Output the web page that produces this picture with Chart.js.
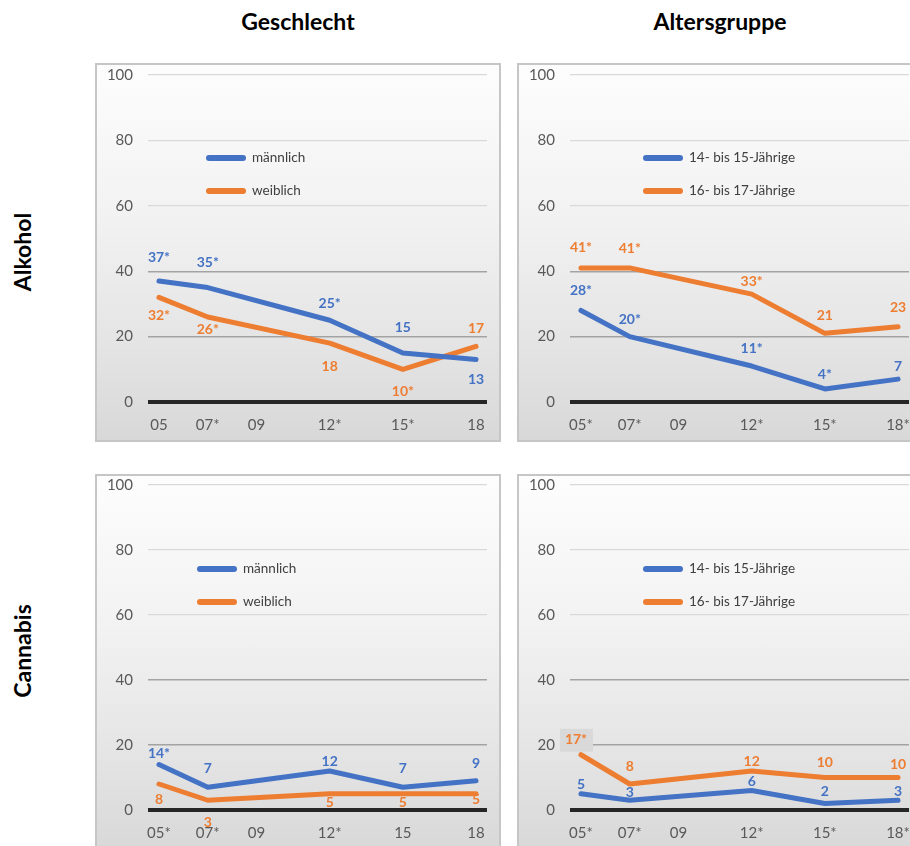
<!DOCTYPE html>
<html lang="de">
<head>
<meta charset="utf-8">
<title>Alkohol und Cannabis nach Geschlecht und Altersgruppe</title>
<script src="https://cdn.jsdelivr.net/npm/chart.js@4.4.1/dist/chart.umd.min.js"></script>
<style>
  html, body { margin: 0; padding: 0; background: #fff; }
  body { width: 910px; height: 846px; position: relative; overflow: hidden; font-family: Lato, "Open Sans", sans-serif; }
  .head { position: absolute; top: 7px; width: 406px; text-align: center; font-weight: bold; font-size: 23px; color: #000; }
  .row { position: absolute; left: 22px; font-weight: bold; font-size: 23px; color: #000;
         transform: translate(-50%, -50%) rotate(-90deg); white-space: nowrap; }
  .panel { position: absolute; width: 406px; height: 379px; box-sizing: border-box;
           border: 2px solid #c6c6c6;
           background: linear-gradient(180deg, #fdfdfd 0%, #f2f2f2 40%, #e4e4e4 75%, #d8d8d8 100%); }
  .panel canvas { display: block; }
</style>
</head>
<body>
<div class="head" style="left:95px">Geschlecht</div>
<div class="head" style="left:517px">Altersgruppe</div>
<div class="row" style="top:252px">Alkohol</div>
<div class="row" style="top:651px">Cannabis</div>

<div class="panel" style="left:95px;top:63px"><canvas id="alkGeschlecht" width="402" height="375"></canvas></div>
<div class="panel" style="left:517px;top:63px"><canvas id="alkAlter" width="402" height="375"></canvas></div>
<div class="panel" style="left:95px;top:474px"><canvas id="canGeschlecht" width="402" height="375"></canvas></div>
<div class="panel" style="left:517px;top:474px"><canvas id="canAlter" width="402" height="375"></canvas></div>

<script>
// Erhebungsjahre (20xx) und Achsenbeschriftungen
const tickYears = [5, 7, 9, 12, 15, 18];
const surveyYears = [5, 7, 12, 15, 18];
const ticksAlkGeschlecht = ['05', '07*', '09', '12*', '15*', '18'];
const ticksAlkAlter = ['05*', '07*', '09', '12*', '15*', '18*'];
const ticksCanGeschlecht = ['05*', '07*', '09', '12*', '15', '18'];
const ticksCanAlter = ['05*', '07*', '09', '12*', '15*', '18*'];

// Alkohol, Werte in %
const alkMaennlich = [37, 35, 25, 15, 13];
const alkMaennlichText = ['37*', '35*', '25*', '15', '13'];
const alkWeiblich = [32, 26, 18, 10, 17];
const alkWeiblichText = ['32*', '26*', '18', '10*', '17'];
const alkJung = [28, 20, 11, 4, 7];
const alkJungText = ['28*', '20*', '11*', '4*', '7'];
const alkAlt = [41, 41, 33, 21, 23];
const alkAltText = ['41*', '41*', '33*', '21', '23'];

// Cannabis, Werte in %
const canMaennlich = [14, 7, 12, 7, 9];
const canMaennlichText = ['14*', '7', '12', '7', '9'];
const canWeiblich = [8, 3, 5, 5, 5];
const canWeiblichText = ['8', '3', '5', '5', '5'];
const canJung = [5, 3, 6, 2, 3];
const canJungText = ['5', '3', '6', '2', '3'];
const canAlt = [17, 8, 12, 10, 10];
const canAltText = ['17*', '8', '12', '10', '10'];

const BLUE = '#4472C4';
const ORANGE = '#ED7D31';
const FONT = 'Lato';

// Legende innerhalb der Zeichenfläche
const insideLegend = {
  id: 'insideLegend',
  afterDatasetsDraw(chart, args, opts) {
    const { ctx, chartArea } = chart;
    chart.data.datasets.forEach((ds, i) => {
      const x = chartArea.left + opts.x;
      const y = chartArea.top + opts.y + i * 33;
      ctx.save();
      ctx.strokeStyle = ds.borderColor;
      ctx.lineWidth = 6;
      ctx.lineCap = 'round';
      ctx.beginPath();
      ctx.moveTo(x + 3, y);
      ctx.lineTo(x + 37, y);
      ctx.stroke();
      ctx.fillStyle = '#404040';
      ctx.font = '13.5px ' + FONT;
      ctx.textBaseline = 'middle';
      ctx.fillText(ds.label, x + 46, y);
      ctx.restore();
    });
  }
};

// Werte an den Punkten
const pointLabels = {
  id: 'pointLabels',
  afterDatasetsDraw(chart) {
    const ctx = chart.ctx;
    chart.data.datasets.forEach((ds, i) => {
      const meta = chart.getDatasetMeta(i);
      meta.data.forEach((pt, j) => {
        const x = pt.x + (ds.labelDx ? ds.labelDx[j] : 0);
        const y = pt.y + ds.labelDy[j];
        ctx.save();
        ctx.font = 'bold 14px ' + FONT;
        ctx.textAlign = 'center';
        ctx.textBaseline = 'middle';
        if (ds.labelBg && ds.labelBg[j]) {
          ctx.fillStyle = ds.labelBg[j];
          ctx.fillRect(x - 16, y - 11, 33, 23);
        }
        ctx.fillStyle = ds.borderColor;
        ctx.fillText(ds.pointText[j], x, y);
        ctx.restore();
      });
    });
  }
};

function series(values) {
  return surveyYears.map((x, i) => ({ x: x, y: values[i] }));
}

function line(label, color, values, texts, dy, extra) {
  return Object.assign({
    label: label,
    data: series(values),
    pointText: texts,
    labelDy: dy,
    borderColor: color,
    backgroundColor: color,
    borderWidth: 5,
    borderCapStyle: 'round',
    borderJoinStyle: 'round',
    pointRadius: 0,
    tension: 0,
    clip: false
  }, extra || {});
}

function makeChart(id, tickText, datasets, p) {
  new Chart(document.getElementById(id), {
    type: 'line',
    data: { datasets: datasets },
    options: {
      responsive: false,
      animation: false,
      events: [],
      layout: { padding: { top: p.top, right: 12, left: 0, bottom: 0 } },
      plugins: {
        legend: { display: false },
        tooltip: { enabled: false },
        insideLegend: { x: p.legX, y: p.legY }
      },
      scales: {
        x: {
          type: 'linear',
          min: 4.55,
          max: 18.45,
          afterBuildTicks: (scale) => { scale.ticks = tickYears.map(v => ({ value: v })); },
          afterFit: (scale) => { scale.height = p.xh; },
          grid: { display: false, drawTicks: true, tickLength: 14 },
          border: { display: false },
          ticks: {
            autoSkip: false,
            maxRotation: 0,
            padding: 0,
            color: '#595959',
            font: { family: FONT, size: 15 },
            callback: (value, index) => tickText[index]
          }
        },
        y: {
          min: 0,
          max: 100,
          afterFit: (scale) => { scale.width = 51; },
          border: { display: false },
          grid: {
            drawTicks: true,
            tickLength: 15,
            tickColor: 'rgba(0,0,0,0)',
            color: (c) => c.tick.value === 0 ? '#262626' : (c.tick.value <= 40 ? '#a3a3a3' : '#d9d9d9'),
            lineWidth: (c) => c.tick.value === 0 ? 4 : (c.tick.value <= 40 ? 1.4 : 1.2)
          },
          ticks: {
            stepSize: 20,
            padding: 0,
            color: '#595959',
            font: { family: FONT, size: 15 }
          }
        }
      }
    },
    plugins: [insideLegend, pointLabels]
  });
}

function drawAll() {
  makeChart('alkGeschlecht', ticksAlkGeschlecht, [
    line('männlich', BLUE, alkMaennlich, alkMaennlichText, [-24, -25, -17, -25, 20]),
    line('weiblich', ORANGE, alkWeiblich, alkWeiblichText, [18, 13, 23, 22, -18])
  ], { top: 10, xh: 38, legX: 58, legY: 83 });

  makeChart('alkAlter', ticksAlkAlter, [
    line('14- bis 15-Jährige', BLUE, alkJung, alkJungText, [-20, -17, -18, -14, -13]),
    line('16- bis 17-Jährige', ORANGE, alkAlt, alkAltText, [-20, -19, -13, -18, -19])
  ], { top: 10, xh: 38, legX: 73, legY: 83 });

  makeChart('canGeschlecht', ticksCanGeschlecht, [
    line('männlich', BLUE, canMaennlich, canMaennlichText, [-11, -19, -10, -19, -17]),
    line('weiblich', ORANGE, canWeiblich, canWeiblichText, [15, 22, 9, 9, 6])
  ], { top: 8, xh: 41, legX: 49, legY: 84 });

  makeChart('canAlter', ticksCanAlter, [
    line('14- bis 15-Jährige', BLUE, canJung, canJungText, [-9, -8, -9, -12, -9]),
    line('16- bis 17-Jährige', ORANGE, canAlt, canAltText, [-15, -18, -10, -15, -13],
         { labelDx: [-5, 0, 0, 0, 0], labelBg: ['#d9d9d9', null, null, null, null] })
  ], { top: 8, xh: 41, legX: 73, legY: 84 });
}

Promise.all([
  document.fonts.load('15px Lato'),
  document.fonts.load('bold 15px Lato')
]).then(drawAll, drawAll);
</script>
</body>
</html>
